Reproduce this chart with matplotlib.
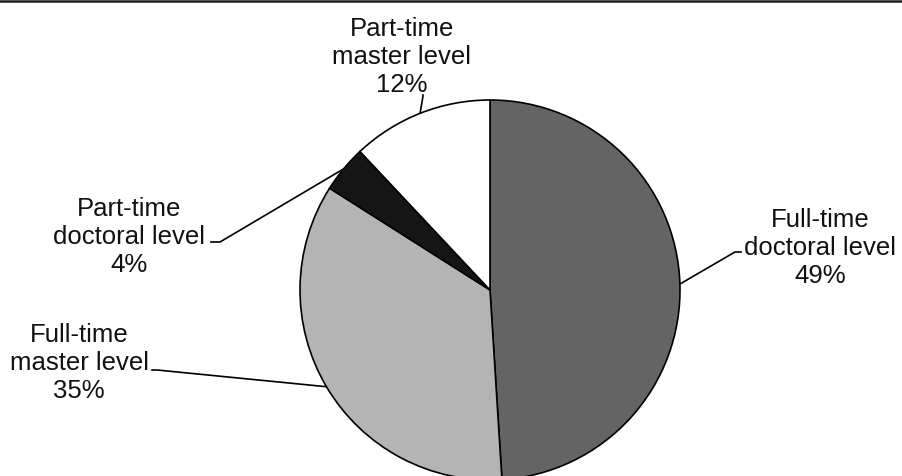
import numpy as np
import matplotlib
matplotlib.use("Agg")
import matplotlib.pyplot as plt
from matplotlib.lines import Line2D

# Enrolment shares by programme type
categories = ["Full-time\ndoctoral level", "Full-time\nmaster level",
              "Part-time\ndoctoral level", "Part-time\nmaster level"]
shares = [49, 35, 4, 12]
colors = ["#646464", "#b4b4b4", "#151515", "#ffffff"]

W, H = 902, 477
fig = plt.figure(figsize=(W / 100, H / 100), dpi=100)
ax = fig.add_axes([0, 0, 1, 1])
ax.set_xlim(0, W)
ax.set_ylim(0, H)
ax.set_aspect("equal")
ax.axis("off")

plt.rcParams["font.family"] = ["Liberation Sans", "DejaVu Sans"]

cx, cy, R = 490, H - 291, 190
wedges, _ = ax.pie(shares, colors=colors, startangle=90, counterclock=False,
                   center=(cx, cy), radius=R, frame=True,
                   wedgeprops=dict(edgecolor="black", linewidth=1.2))
ax.set_xlim(0, W)
ax.set_ylim(0, H)
ax.axis("off")

# label anchor (text centre) and elbow of the leader, in px from top-left
label_pos = [(820, 248), (79, 363), (129, 237), (402, 57)]
elbows = [[(741, 253), (735, 253)],
          [(152, 371), (157, 371)],
          [(211, 243), (220, 243)],
          [(423, 96), (423, 97)]]

for w, share, name, (tx, ty), elb in zip(wedges, shares, categories, label_pos, elbows):
    mid = np.deg2rad((w.theta1 + w.theta2) / 2)
    px, py = cx + R * np.cos(mid), cy + R * np.sin(mid)
    xs = [e[0] for e in elb] + [px]
    ys = [H - e[1] for e in elb] + [py]
    ax.add_line(Line2D(xs, ys, color="black", lw=1.2, zorder=0.5))
    ax.text(tx, H - ty, f"{name}\n{share}%", ha="center", va="center",
            multialignment="center", fontsize=18.5, color="#111111")

# rule across the top
fig.add_artist(Line2D([0, 1], [1 - 1.5 / H, 1 - 1.5 / H], color="#1a1a1a",
                      lw=1.8, transform=fig.transFigure))

fig.savefig("out.png", dpi=100, facecolor="white")
